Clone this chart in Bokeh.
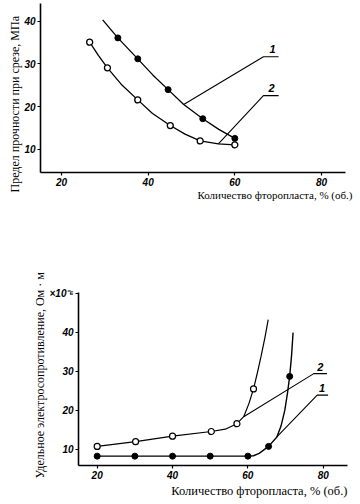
import math
from bokeh.plotting import figure
from bokeh.models import Label, FixedTicker, Range1d, Title
from bokeh.embed import file_html
from bokeh.resources import INLINE

# ---------------- data: top chart (shear strength) ----------------
top_x_ticks = [20, 40, 60, 80]
top_y_ticks = [10, 20, 30, 40]
# series 1 (filled markers)
s1_x = [33.0, 37.6, 44.6, 52.6, 60.0]
s1_y = [36.1, 31.2, 24.0, 17.2, 12.6]
s1_line_x = [29.5, 33.0, 37.6, 41.0, 44.6, 48.2, 52.6, 56.3, 60.0]
s1_line_y = [40.3, 36.1, 31.2, 27.5, 24.0, 20.5, 17.2, 14.7, 12.6]
# series 2 (open markers)
s2_x = [26.5, 30.6, 37.6, 45.1, 52.0, 60.0]
s2_y = [35.1, 29.1, 21.6, 15.6, 12.0, 11.1]
s2_line_x = [26.5, 28.5, 30.6, 34.0, 37.6, 41.0, 45.1, 48.5, 52.0, 56.2, 60.0]
s2_line_y = [35.1, 32.0, 29.1, 25.0, 21.6, 18.4, 15.6, 13.6, 12.0, 11.3, 11.1]
# leader lines and curve numbers
t_lead1_x = [48.2, 66.6, 70.1]
t_lead1_y = [20.5, 31.7, 31.7]
t_lead2_x = [56.2, 66.6, 70.1]
t_lead2_y = [11.3, 22.6, 22.6]
t_tags = ["1", "2"]
t_tag_x = [68.7, 68.5]
t_tag_y = [33.6, 24.3]

# ---------------- data: bottom chart (resistivity) ----------------
bot_x_ticks = [20, 40, 60, 80]
bot_y_ticks = [10, 20, 30, 40, 50]
# series 1 (filled markers)
b1_x = [20, 30, 40, 50, 60, 65.5, 71.1]
b1_y = [8.3, 8.3, 8.3, 8.3, 8.3, 10.8, 28.7]
b1_line_x = [20, 30, 40, 50, 60, 61.5, 63.0, 65.5, 67.7, 68.8, 69.8, 70.5, 71.1, 71.6, 72.0]
b1_line_y = [8.3, 8.3, 8.3, 8.3, 8.3, 8.4, 9.0, 10.8, 13.2, 16.0, 20.0, 24.3, 28.7, 34.0, 39.9]
# series 2 (open markers)
b2_x = [20, 30.2, 40, 50.3, 57.1, 61.5]
b2_y = [10.8, 12.0, 13.4, 14.6, 16.6, 25.5]
b2_line_x = [20, 30.2, 40, 50.3, 54.0, 57.1, 58.9, 60.3, 61.5, 62.5, 63.5, 64.5, 65.4]
b2_line_y = [10.8, 12.0, 13.4, 14.6, 15.2, 16.6, 18.4, 21.8, 25.5, 29.5, 33.8, 38.5, 43.2]
b_lead1_x = [67.7, 78.4, 81.3]
b_lead1_y = [13.2, 23.9, 23.9]
b_lead2_x = [58.9, 77.5, 81.0]
b_lead2_y = [18.4, 29.4, 29.4]
b_tags = ["1", "2"]
b_tag_x = [79.7, 79.2]
b_tag_y = [25.8, 31.2]

x_title = "Количество фторопласта, % (об.)"
top_y_title = "Предел прочности при срезе, МПа"
bot_y_title = "Удельное электросопротивление, Ом · м"

TICK_FONT = "Liberation Sans"
TITLE_FONT = "Liberation Serif"


def style(p, xt, yt, overrides=None):
    p.xgrid.visible = False
    p.ygrid.visible = False
    p.outline_line_color = None
    p.background_fill_color = "white"
    p.border_fill_color = "white"
    for ax in (p.xaxis[0], p.yaxis[0]):
        ax.axis_line_width = 1.6
        ax.axis_line_color = "black"
        ax.major_tick_out = 3
        ax.major_tick_in = 0
        ax.major_tick_line_width = 1.2
        ax.minor_tick_out = 0
        ax.minor_tick_in = 0
        ax.major_label_text_font = TICK_FONT
        ax.major_label_text_font_style = "bold italic"
        ax.major_label_text_font_size = "10px"
        ax.major_label_text_color = "black"
        ax.major_label_standoff = 2
    p.xaxis[0].ticker = FixedTicker(ticks=xt)
    p.yaxis[0].ticker = FixedTicker(ticks=yt)
    if overrides:
        p.yaxis[0].major_label_overrides = overrides


def tag(p, txt, x, y, size="11px"):
    p.add_layout(Label(x=x, y=y, text=txt, text_font=TICK_FONT, text_font_style="bold italic",
                       text_font_size=size, text_align="center", text_baseline="middle",
                       text_color="black"))


def title(p, txt, side, align, size, offset, standoff=0, valign="bottom"):
    p.add_layout(Title(text=txt, align=align, offset=offset, text_font=TITLE_FONT,
                       text_font_style="normal", text_font_size=size, text_color="black",
                       standoff=standoff, vertical_align=valign), side)


# ---------------- top figure ----------------
p1 = figure(width=360, height=205, output_backend="svg", toolbar_location=None,
            x_range=Range1d(15.15, 85.54), y_range=Range1d(4.62, 44.14),
            min_border_left=40, min_border_right=15, min_border_top=3, min_border_bottom=33)
style(p1, top_x_ticks, top_y_ticks)
p1.line(s1_line_x, s1_line_y, line_color="black", line_width=1.3)
p1.line(s2_line_x, s2_line_y, line_color="black", line_width=1.3)
p1.line(t_lead1_x, t_lead1_y, line_color="black", line_width=1.1)
p1.line(t_lead2_x, t_lead2_y, line_color="black", line_width=1.1)
p1.scatter(s1_x, s1_y, size=6, marker="circle", fill_color="black", line_color="black")
p1.scatter(s2_x, s2_y, size=6, marker="circle", fill_color="white", line_color="black", line_width=1.3)
for t, x, y in zip(t_tags, t_tag_x, t_tag_y):
    tag(p1, t, x, y)
title(p1, x_title, "below", "right", "11px", -7, standoff=-4)
title(p1, top_y_title, "left", "left", "12px", -20)

# ---------------- bottom figure ----------------
p2 = figure(width=360, height=298, output_backend="svg", toolbar_location=None,
            x_range=Range1d(15.04, 86.45), y_range=Range1d(5.91, 50.15),
            min_border_left=78, min_border_right=13, min_border_top=87, min_border_bottom=38)
style(p2, bot_x_ticks, bot_y_ticks, overrides={50: "×10⁻⁶"})
p2.line(b1_line_x, b1_line_y, line_color="black", line_width=1.4)
p2.line(b2_line_x, b2_line_y, line_color="black", line_width=1.2)
p2.line(b_lead1_x, b_lead1_y, line_color="black", line_width=1.1)
p2.line(b_lead2_x, b_lead2_y, line_color="black", line_width=1.1)
p2.scatter(b1_x, b1_y, size=6, marker="circle", fill_color="black", line_color="black")
p2.scatter(b2_x, b2_y, size=6, marker="circle", fill_color="white", line_color="black", line_width=1.2)
for t, x, y in zip(b_tags, b_tag_x, b_tag_y):
    tag(p2, t, x, y)
title(p2, x_title, "below", "right", "12.5px", 0)
title(p2, bot_y_title, "left", "left", "12px", -13)

open("out.html", "w").write(file_html([p1, p2], INLINE))
